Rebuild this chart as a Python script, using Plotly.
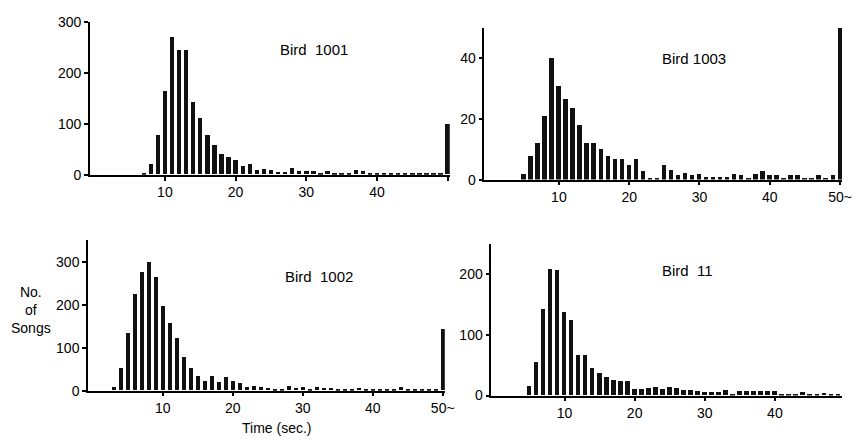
import plotly.graph_objects as go

# ---------------- data (seconds between songs -> number of songs) ----------------
secs_1001 = list(range(7, 51))
counts_1001 = [1, 21, 77, 165, 271, 244, 244, 142, 110, 77, 58, 41, 34, 29, 16, 21,
               8, 11, 8, 5, 4, 12, 6, 6, 6, 1, 6, 1, 1, 1, 8, 6, 2, 2, 1, 1, 1, 1,
               1, 1, 1, 1, 2, 100]

secs_1003 = list(range(5, 51))
counts_1003 = [2, 8, 12, 21, 40, 31, 26.5, 23.5, 18, 12, 12, 10, 8, 7, 7, 5, 7, 3,
               0.4, 0.4, 5, 3.4, 1.5, 2.3, 1.5, 2, 1, 1, 1, 1, 2, 1.5, 0.5, 2, 3,
               1.5, 1.5, 0.3, 1.5, 1.5, 0.3, 0.3, 1.5, 0.3, 1.5, 50]

secs_1002 = list(range(3, 51))
counts_1002 = [7, 51, 134, 225, 275, 298, 265, 196, 157, 122, 77, 51, 34, 22, 34,
               19, 32, 23, 17, 9, 10, 7, 5, 4, 1, 10, 5, 7, 4, 8, 5, 5, 4, 4, 1,
               6, 4, 4, 4, 4, 4, 7, 4, 4, 4, 3, 3, 143]

secs_11 = list(range(5, 50))
counts_11 = [15, 55, 142, 208, 207, 138, 124, 66, 66, 46, 37, 31, 25, 24, 24, 11,
             11, 12, 13, 11, 13, 12, 9, 9, 8, 6, 5, 5, 9, 1, 7, 7, 8, 7, 7, 7, 3,
             2, 3, 5, 2, 3, 4, 2, 1]

labels = ["Bird  1001", "Bird 1003", "Bird  1002", "Bird  11"]
x_ticks = [10, 20, 30, 40, 50]
x_text_plain = ["10", "20", "30", "40", ""]
x_text_tilde = ["10", "20", "30", "40", "50~"]

W, H = 868, 445
FONT = "Liberation Sans, Arial, Helvetica, sans-serif"


def px_x(a, b):
    return [a / W, b / W]


def px_y(top, bottom):
    return [1 - bottom / H, 1 - top / H]


fig = go.Figure()
series = [(secs_1001, counts_1001), (secs_1003, counts_1003),
          (secs_1002, counts_1002), (secs_11, counts_11)]
for i, (xs, ys) in enumerate(series):
    sfx = "" if i == 0 else str(i + 1)
    fig.add_trace(go.Bar(x=xs, y=ys, width=0.62, marker_color="#111111",
                         marker_line_width=0, xaxis="x" + sfx, yaxis="y" + sfx,
                         showlegend=False))

ax_common = dict(showline=True, linecolor="black", linewidth=1.5, ticks="outside",
                 ticklen=4, tickwidth=1.5, tickcolor="black", showgrid=False,
                 zeroline=False, tickfont=dict(family=FONT, size=14, color="black"),
                 fixedrange=True)

panels = [
    # xdomain px, xrange, ydomain px (top,bottom), yrange, yticks, xticktext
    ((91, 455), [-0.6, 50.3], (15, 173), [0, 300], [0, 100, 200, 300], x_text_plain),
    ((490, 852), [-0.6, 50.3], (20.5, 178), [0, 50], [0, 20, 40], x_text_tilde),
    ((89, 450), [-0.7, 50.3], (241, 397), [0, 350], [0, 100, 200, 300], x_text_tilde),
    ((497, 852), [-0.45, 49.6], (245, 402), [0, 250], [0, 100, 200], x_text_plain),
]

layout = {}
for i, (xd, xr, yd, yr, yt, xtt) in enumerate(panels):
    sfx = "" if i == 0 else str(i + 1)
    layout["xaxis" + sfx] = dict(ax_common, domain=px_x(*xd), range=xr,
                                 anchor="y" + sfx, tickvals=x_ticks, ticktext=xtt)
    layout["yaxis" + sfx] = dict(ax_common, domain=px_y(*yd), range=yr,
                                 anchor="x" + sfx, tickvals=yt,
                                 ticktext=[str(v) for v in yt])

annots = []
label_pos = [(318, 43), (702, 52), (323, 278), (696, 272)]
for txt, (ax, ay) in zip(labels, label_pos):
    annots.append(dict(text=txt, x=ax / W, y=1 - ay / H, xref="paper", yref="paper",
                       showarrow=False, xanchor="center", yanchor="middle",
                       font=dict(family=FONT, size=15, color="black")))
annots.append(dict(text="No.<br>of<br>Songs", x=31 / W, y=1 - 313 / H, xref="paper",
                   yref="paper", showarrow=False, xanchor="center", yanchor="middle",
                   align="center",
                   font=dict(family=FONT, size=14, color="black")))
annots.append(dict(text="Time (sec.)", x=280 / W, y=1 - 436 / H, xref="paper",
                   yref="paper", showarrow=False, xanchor="center", yanchor="middle",
                   font=dict(family=FONT, size=14, color="black")))

fig.update_layout(width=W, height=H, margin=dict(l=0, r=0, t=0, b=0),
                  paper_bgcolor="white", plot_bgcolor="white", bargap=0,
                  annotations=annots, **layout)

fig.write_html("out.html")
